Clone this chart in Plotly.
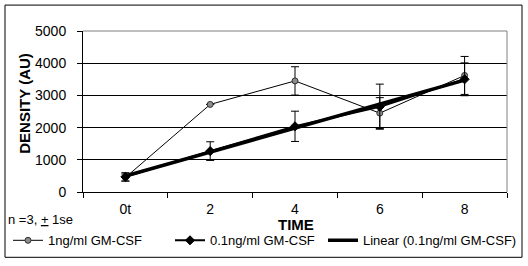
import numpy as np
import plotly.graph_objects as go

# ---- data ----
categories = ["0t", "2", "4", "6", "8"]
ng1_values = [450, 2720, 3450, 2450, 3620]
ng1_errors = [110, None, 440, 480, 590]
ng01_values = [470, 1270, 2040, 2650, 3500]
ng01_errors = [130, 290, 470, 700, 510]
y_ticks = [0, 1000, 2000, 3000, 4000, 5000]

# linear trendline of the 0.1ng series (least squares, like Excel)
xi = np.arange(len(categories))
slope, intercept = np.polyfit(xi, ng01_values, 1)
trend_values = list(slope * xi + intercept)

FONT = "Liberation Sans, Arial, sans-serif"

# plot-area geometry in pixels (for paper coordinate conversion)
W, H = 528, 266
L, R, T, B = 83, 507, 31, 192.5
PW, PH = R - L, B - T


def px(x):
    return (x - L) / PW


def py(y):
    return (B - y) / PH


fig = go.Figure()

fig.add_trace(go.Scatter(
    x=categories, y=ng1_values, name="1ng/ml GM-CSF",
    mode="lines+markers",
    line=dict(color="black", width=1),
    marker=dict(symbol="circle", size=6, color="#8c8c8c",
                line=dict(color="#303030", width=1)),
    error_y=dict(type="data", array=ng1_errors, visible=True,
                 color="black", thickness=1, width=4),
    legend="legend",
))

fig.add_trace(go.Scatter(
    x=categories, y=ng01_values, name="0.1ng/ml GM-CSF",
    mode="lines+markers",
    line=dict(color="black", width=2),
    marker=dict(symbol="diamond", size=7, color="black",
                line=dict(color="black", width=1)),
    error_y=dict(type="data", array=ng01_errors, visible=True,
                 color="black", thickness=1, width=4),
    legend="legend2",
))

fig.add_trace(go.Scatter(
    x=categories, y=trend_values, name="Linear (0.1ng/ml GM-CSF)",
    mode="lines",
    line=dict(color="black", width=3.5),
    legend="legend3",
))

legend_common = dict(
    orientation="h", yanchor="middle", xanchor="left",
    bgcolor="rgba(0,0,0,0)", borderwidth=0,
    font=dict(family=FONT, size=13, color="black"),
    itemwidth=30, tracegroupgap=0,
)

fig.update_layout(
    width=W, height=H,
    margin=dict(l=L, r=W - R, t=T, b=H - B, autoexpand=False),
    paper_bgcolor="white", plot_bgcolor="white",
    font=dict(family=FONT, size=14, color="black"),
    showlegend=True,
    legend=dict(x=px(8), y=py(241), **legend_common),
    legend2=dict(x=px(170), y=py(241), **legend_common),
    legend3=dict(x=px(323), y=py(241), **legend_common),
    xaxis=dict(
        type="category", range=[-0.5, len(categories) - 0.5],
        tickson="boundaries", ticks="outside", ticklen=5,
        tickcolor="black", tickwidth=1,
        showline=True, linecolor="black", linewidth=1,
        showgrid=False, zeroline=False,
        tickfont=dict(family=FONT, size=14, color="black"),
        ticklabelstandoff=4,
    ),
    yaxis=dict(
        range=[0, 5000], tickvals=y_ticks,
        ticks="outside", ticklen=5, tickcolor="black", tickwidth=1,
        showline=True, linecolor="black", linewidth=1,
        showgrid=True, gridcolor="black", gridwidth=1,
        zeroline=False,
        tickfont=dict(family=FONT, size=14, color="black"),
        ticklabelstandoff=8,
    ),
    shapes=[
        # outer chart border
        dict(type="rect", xref="paper", yref="paper",
             x0=px(5), x1=px(522), y0=py(258), y1=py(5),
             line=dict(color="black", width=1), layer="below"),
        # gray plot-area border (top & right)
        dict(type="line", xref="paper", yref="paper",
             x0=0, x1=1, y0=1, y1=1,
             line=dict(color="#808080", width=1), layer="above"),
        dict(type="line", xref="paper", yref="paper",
             x0=1, x1=1, y0=0, y1=1,
             line=dict(color="#808080", width=1), layer="above"),
    ],
    annotations=[
        dict(text="<b>DENSITY (AU)</b>", xref="paper", yref="paper",
             x=px(25), y=py(104), textangle=-90, showarrow=False,
             xanchor="center", yanchor="middle",
             font=dict(family=FONT, size=15, color="black")),
        dict(text="<b>TIME</b>", xref="paper", yref="paper",
             x=px(296), y=py(225), showarrow=False,
             xanchor="center", yanchor="middle",
             font=dict(family=FONT, size=15, color="black")),
        dict(text="n =3, <u>+</u> 1se", xref="paper", yref="paper",
             x=px(6), y=py(220), showarrow=False,
             xanchor="left", yanchor="middle",
             font=dict(family=FONT, size=13, color="black")),
    ],
)

fig.write_html("out.html",
               config={"displayModeBar": False},
               post_script="document.body.style.margin='0px';")
